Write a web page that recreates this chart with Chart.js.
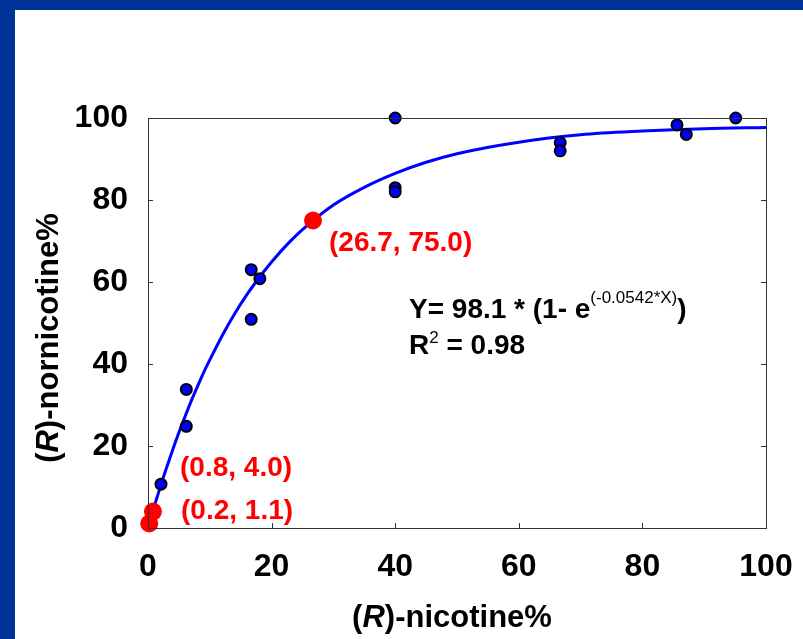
<!DOCTYPE html>
<html>
<head>
<meta charset="utf-8">
<script src="https://cdn.jsdelivr.net/npm/chart.js@4.4.1/dist/chart.umd.min.js"></script>
<style>
  html, body { margin: 0; padding: 0; background: #003399; }
  body { width: 803px; height: 639px; position: relative; overflow: hidden; }
  #wrap { position: absolute; left: 15px; top: 10px; width: 788px; height: 629px; background: #fff; }
</style>
</head>
<body>
<div id="wrap"><canvas id="myChart" width="788" height="629"></canvas></div>
<script>
// measured samples (R)-nicotine% vs (R)-nornicotine%
var sampleX = [2.1, 6.2, 6.2, 16.7, 18.1, 16.7, 40, 40, 40, 66.7, 66.7, 85.6, 87.1, 95.1];
var sampleY = [10.7, 33.8, 24.8, 63.0, 60.8, 50.9, 100, 83.0, 82.0, 94.0, 92.0, 98.3, 96.0, 100];

// highlighted points
var markX = [26.7, 0.8, 0.2];
var markY = [75.0, 4.0, 1.1];
var markLabels = ["(26.7, 75.0)", "(0.8, 4.0)", "(0.2, 1.1)"];

// fitted curve
var curveX = [0, 1, 2, 3, 4, 5, 6, 7, 8, 9, 10, 12, 14, 16, 18, 20, 23, 26, 30, 35, 40, 45, 50, 60, 70, 80, 90, 100];
var curveY = [0, 5.2, 10.1, 14.7, 19.1, 23.3, 27.2, 31.0, 34.5, 37.9, 41.0, 46.9, 52.2, 56.9, 61.1, 64.9, 69.9, 74.1, 78.8, 83.1, 86.5, 89.2, 91.3, 94.1, 95.9, 96.8, 97.4, 97.7];

var tickValues = [0, 20, 40, 60, 80, 100];

var FONT = "'Liberation Sans', Arial, sans-serif";

const toPoints = (xs, ys) => xs.map((x, i) => ({ x: x, y: ys[i] }));

// writes a row of text pieces: [text, font, dy]
const drawPieces = (ctx, x, y, pieces, color) => {
  ctx.fillStyle = color;
  ctx.textAlign = "left";
  ctx.textBaseline = "alphabetic";
  pieces.forEach(function (p) {
    ctx.font = p[1];
    ctx.fillText(p[0], x, y + (p[2] || 0));
    x += ctx.measureText(p[0]).width;
  });
  return x;
};

const piecesWidth = (ctx, pieces) => {
  var w = 0;
  pieces.forEach(function (p) {
    ctx.font = p[1];
    w += ctx.measureText(p[0]).width;
  });
  return w;
};

const framePlugin = {
  id: "frame",
  afterDatasetsDraw(chart) {
    const ctx = chart.ctx;
    const a = chart.chartArea;
    const xs = chart.scales.x;
    const ys = chart.scales.y;
    ctx.save();
    ctx.strokeStyle = "#333";
    ctx.lineWidth = 1;
    ctx.strokeRect(a.left + 0.5, a.top + 0.5, a.right - a.left, a.bottom - a.top);
    ctx.beginPath();
    tickValues.forEach(function (v) {
      var px = Math.round(xs.getPixelForValue(v)) + 0.5;
      ctx.moveTo(px, a.bottom);
      ctx.lineTo(px, a.bottom - 5);
      var py = Math.round(ys.getPixelForValue(v)) + 0.5;
      ctx.moveTo(a.left, py);
      ctx.lineTo(a.left + 5, py);
      ctx.moveTo(a.right, py);
      ctx.lineTo(a.right - 5, py);
    });
    ctx.stroke();
    ctx.restore();
  },
  afterDraw(chart) {
    const ctx = chart.ctx;
    ctx.save();
    var bold = "bold 28px " + FONT;
    // red labels
    drawPieces(ctx, 314, 241, [[markLabels[0], bold]], "#ff0000");
    drawPieces(ctx, 165, 466, [[markLabels[1], bold]], "#ff0000");
    drawPieces(ctx, 166, 509, [[markLabels[2], bold]], "#ff0000");

    // equation
    var eq = "bold 28px " + FONT;
    var sup = "17px " + FONT;
    drawPieces(ctx, 394, 308, [
      ["Y= 98.1 * (1- e", eq],
      ["(-0.0542*X)", sup, -15],
      [")", eq],
    ], "#000");
    drawPieces(ctx, 394, 344, [
      ["R", eq],
      ["2", sup, -11],
      [" = 0.98", eq],
    ], "#000");

    // axis titles
    var tf = "bold 31px " + FONT;
    var ti = "italic bold 31px " + FONT;
    var xt = [["(", tf], ["R", ti], [")-nicotine%", tf]];
    var w = piecesWidth(ctx, xt);
    drawPieces(ctx, 437 - w / 2, 617, xt, "#000");

    var yt = [["(", tf], ["R", ti], [")-nornicotine%", tf]];
    w = piecesWidth(ctx, yt);
    ctx.translate(43, 328);
    ctx.rotate(-Math.PI / 2);
    drawPieces(ctx, -w / 2, 0, yt, "#000");
    ctx.restore();
  },
};

var ctx = document.getElementById("myChart").getContext("2d");
let chart = new Chart(ctx, {
  type: "scatter",
  data: {
    datasets: [
      {
        data: toPoints(markX, markY),
        backgroundColor: "#ff0000",
        borderColor: "#ff0000",
        pointRadius: 9,
        borderWidth: 0,
        order: 1,
        clip: false,
      },
      {
        data: toPoints(sampleX, sampleY),
        backgroundColor: "#0000ff",
        borderColor: "#000",
        borderWidth: 2,
        pointRadius: 5.5,
        order: 2,
        clip: false,
      },
      {
        data: toPoints(curveX, curveY),
        showLine: true,
        borderColor: "#0000ff",
        borderWidth: 3,
        pointRadius: 0,
        cubicInterpolationMode: "monotone",
        order: 3,
      },
    ],
  },
  options: {
    responsive: false,
    animation: false,
    events: [],
    layout: { padding: { top: 108, right: 37, left: 0, bottom: 0 } },
    plugins: { legend: { display: false }, tooltip: { enabled: false } },
    scales: {
      x: {
        type: "linear",
        min: 0,
        max: 100,
        afterFit: (s) => { s.height = 111; s.paddingLeft = 0; s.paddingRight = 0; },
        afterBuildTicks: (s) => { s.ticks = tickValues.map((v) => ({ value: v })); },
        grid: { display: false, drawTicks: false },
        border: { display: false },
        ticks: { padding: 20, color: "#000", font: { family: FONT, size: 32, weight: "bold" } },
      },
      y: {
        type: "linear",
        min: 0,
        max: 100,
        afterFit: (s) => { s.width = 133; s.paddingTop = 0; s.paddingBottom = 0; },
        afterBuildTicks: (s) => { s.ticks = tickValues.map((v) => ({ value: v })); },
        grid: { display: false, drawTicks: false },
        border: { display: false },
        ticks: { padding: 20, color: "#000", font: { family: FONT, size: 32, weight: "bold" } },
      },
    },
  },
  plugins: [framePlugin],
});
</script>
</body>
</html>
